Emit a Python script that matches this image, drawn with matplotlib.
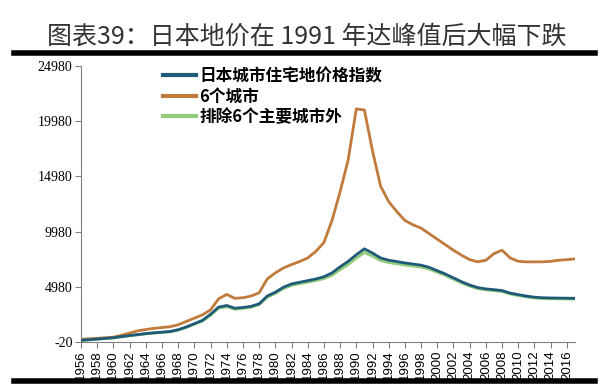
import matplotlib
matplotlib.use('Agg')
import matplotlib.pyplot as plt
from matplotlib.lines import Line2D

plt.rcParams['font.family'] = ['Noto Sans CJK SC', 'DejaVu Sans']

# Data
years = list(range(1956, 2018))
national = [150, 200, 260, 320, 380, 480, 580, 660, 750, 820,
            880, 940, 1100, 1350, 1650, 1950, 2500, 3150, 3300, 3050,
            3120, 3220, 3450, 4150, 4500, 4950, 5250, 5400, 5550, 5700,
            5900, 6250, 6800, 7300, 7900, 8430, 8050, 7600, 7400, 7280,
            7150, 7050, 6950, 6750, 6450, 6150, 5800, 5450, 5150, 4920,
            4800, 4730, 4650, 4420, 4280, 4150, 4050, 4000, 3980, 3970,
            3960, 3950]
six_cities = [240, 280, 330, 380, 430, 600, 800, 1000, 1120, 1230,
              1300, 1380, 1550, 1850, 2150, 2450, 2900, 3900, 4300, 3950,
              4000, 4150, 4450, 5700, 6250, 6700, 7000, 7280, 7600, 8200,
              9000, 11000, 13600, 16500, 21100, 21000, 17300, 14100, 12700, 11800,
              11000, 10600, 10300, 9800, 9300, 8800, 8300, 7850, 7450, 7250,
              7400, 8000, 8300, 7600, 7300, 7250, 7250, 7250, 7300, 7400,
              7450, 7520]
excl_six = [140, 190, 250, 310, 370, 470, 570, 650, 740, 810,
            870, 930, 1080, 1320, 1610, 1900, 2430, 3060, 3200, 2970,
            3040, 3150, 3380, 4060, 4400, 4840, 5130, 5280, 5420, 5560,
            5740, 6050, 6550, 7020, 7600, 8100, 7780, 7380, 7200, 7090,
            6970, 6880, 6790, 6600, 6320, 6030, 5690, 5350, 5060, 4840,
            4720, 4650, 4570, 4350, 4210, 4090, 3990, 3940, 3920, 3910,
            3900, 3890]
series_names = ['日本城市住宅地价格指数', '6个城市', '排除6个主要城市外']
colors = ['#1f5b78', '#c07a3c', '#92cc7c']
y_ticks = [-20, 4980, 9980, 14980, 19980, 24980]

fig = plt.figure(figsize=(6.13, 3.84), dpi=100)
ax = fig.add_axes([0.132, 0.109, 0.806, 0.719])

# green first so the blue line sits on top
ax.plot(years, excl_six, color=colors[2], lw=2.2, label=series_names[2], zorder=2)
ax.plot(years, six_cities, color=colors[1], lw=2.0, label=series_names[1], zorder=3)
ax.plot(years, national, color=colors[0], lw=2.0, label=series_names[0], zorder=4)

ax.set_xlim(1956, 2017)
ax.set_ylim(-20, 24980)
ax.set_yticks(y_ticks)
ax.set_yticklabels([str(v) for v in y_ticks], family='Liberation Serif', fontsize=10)
ax.set_xticks(years[::2])
ax.set_xticklabels([str(y) for y in years[::2]], rotation=90,
                   family='Liberation Sans', fontsize=9.5)

for s in ['top', 'right']:
    ax.spines[s].set_visible(False)
for s in ['left', 'bottom']:
    ax.spines[s].set_color('#808080')
ax.tick_params(axis='both', direction='out', length=4, color='#808080', pad=2)

handles, labels = ax.get_legend_handles_labels()
order = [2, 1, 0]
leg = ax.legend([handles[i] for i in order], [labels[i] for i in order],
                loc='upper left', bbox_to_anchor=(0.135, 1.05), frameon=False,
                prop={'family': 'Noto Sans CJK SC', 'weight': 'bold', 'size': 12},
                handlelength=2.0, handletextpad=0.2, labelspacing=0.15)
for line in leg.get_lines():
    line.set_linewidth(3)

fig.text(0.5, 0.905, '图表39：日本地价在 1991 年达峰值后大幅下跌',
         ha='center', va='center', fontsize=18, color='#333333',
         family=['Noto Sans CJK SC', 'DejaVu Sans'], weight='light')
fig.add_artist(Line2D([0.023, 0.97], [0.862, 0.862], color='black', lw=4,
                      transform=fig.transFigure))
fig.add_artist(Line2D([0.023, 0.97], [0.008, 0.008], color='black', lw=4,
                      transform=fig.transFigure))

fig.savefig('out.png', dpi=100)
